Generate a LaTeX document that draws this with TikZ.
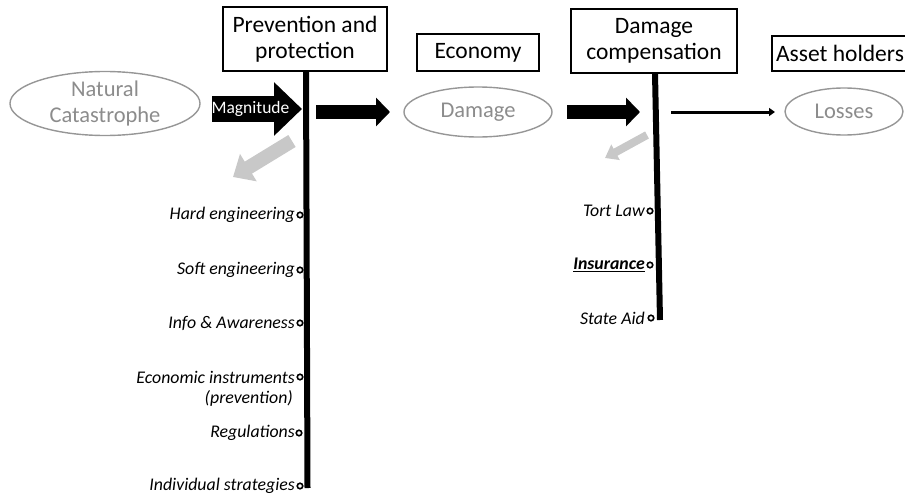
\documentclass[tikz,border=0pt]{standalone}
\usepackage{fontspec}
\setmainfont{Carlito}
\usetikzlibrary{arrows.meta,shapes.geometric}
\definecolor{txtgray}{RGB}{140,140,140}
\definecolor{linegray}{RGB}{150,150,150}
\definecolor{arrgray}{RGB}{200,200,200}
\begin{document}
\begin{tikzpicture}[x=1pt,y=-1pt,
  box/.style={draw,line width=1.6pt,inner sep=0pt,font=\fontsize{23.5}{25.5}\selectfont,align=center},
  oval/.style={ellipse,draw=linegray,line width=1.4pt,inner sep=0pt,text=txtgray,font=\fontsize{22.5}{26}\selectfont,align=center},
  item/.style={anchor=east,inner sep=0pt,font=\fontsize{17.8}{21}\selectfont\itshape},
  dot/.style={circle,draw,fill=white,line width=1.6pt,inner sep=0pt,minimum size=5.5pt},
  bigarrow/.style={line width=26pt,-{Triangle[length=28pt,width=52pt]}},
  midarrow/.style={line width=14pt,-{Triangle[length=14pt,width=28pt]}},
  thinarrow/.style={line width=3pt,-{Triangle[length=6pt,width=8pt]}},
  grayarrow/.style={arrgray,line width=14pt,-{Triangle[length=18pt,width=31pt]}},
  smallgray/.style={arrgray,line width=8pt,-{Triangle[length=12pt,width=17pt]}},
  pole/.style={line width=6pt}
]
\useasboundingbox (0,0) rectangle (905,495);

% header boxes
\node[box,minimum width=164pt,minimum height=64pt] (prev) at (305,39) {Prevention and\\protection};
\node[box,minimum width=122pt,minimum height=37pt] (econ) at (478,52.5) {Economy};
\node[box,minimum width=166pt,minimum height=64pt] (dcomp) at (654,41) {Damage\\compensation};
\node[box,minimum width=136pt,minimum height=35pt] (asset) at (840,53.5) {Asset holders};

% ellipses
\node[oval,minimum width=190pt,minimum height=63pt] (nat) at (105,103.5) {Natural\\Catastrophe};
\node[oval,minimum width=148pt,minimum height=50pt] (dmg) at (478,112) {Damage};
\node[oval,minimum width=118pt,minimum height=47pt] (loss) at (844,111.5) {Losses};

% poles
\coordinate (p1a) at (306,71);
\coordinate (p1b) at (307.5,488);
\coordinate (p2a) at (655,73);
\coordinate (p2b) at (660,320);
\draw[pole] (p1a) -- (p1b);
\draw[pole] (p2a) -- (p2b);

% black arrows
\coordinate (m1) at (212,109);
\coordinate (m2) at (302,109);
\draw[bigarrow] (m1) -- (m2);
\node[text=white,inner sep=0pt,font=\fontsize{17.5}{20}\selectfont] (mag) at (250.5,108.5) {Magnitude};

\coordinate (a2s) at (316,112);
\coordinate (a2e) at (390,112);
\draw[midarrow] (a2s) -- (a2e);

\coordinate (a3s) at (567,112);
\coordinate (a3e) at (640,112);
\draw[midarrow] (a3s) -- (a3e);

\coordinate (a4s) at (671,112);
\coordinate (a4e) at (775,112);
\draw[thinarrow] (a4s) -- (a4e);

% gray arrows
\coordinate (g1s) at (292,141);
\coordinate (g1e) at (233,177);
\draw[grayarrow] (g1s) -- (g1e);
\coordinate (g2s) at (647,135);
\coordinate (g2e) at (605,158);
\draw[smallgray] (g2s) -- (g2e);

% items on first pole
\node[item] (i1) at (295,215) {Hard engineering};
\node[dot] (d1) at (300,215) {};
\node[item] (i2) at (295,270) {Soft engineering};
\node[dot] (d2) at (300,270) {};
\node[item] (i3) at (295,323) {Info \& Awareness};
\node[dot] (d3) at (300,323) {};
\node[item] (i4) at (295,377) {Economic instruments};
\node[item] (i4b) at (293,398) {(prevention)};
\node[dot] (d4) at (300,377) {};
\node[item] (i5) at (295,433) {Regulations};
\node[dot] (d5) at (299,433) {};
\node[item] (i6) at (295,486) {Individual strategies};
\node[dot] (d6) at (300,486) {};

% items on second pole
\node[item] (j1) at (645,211) {Tort Law};
\node[dot] (e1) at (650,211) {};
\node[item] (j2) at (645,265) {\underline{\textbf{Insurance}}};
\node[dot] (e2) at (650,265) {};
\node[item] (j3) at (645,318) {State Aid};
\node[dot] (e3) at (651,318) {};
\end{tikzpicture}
\end{document}
